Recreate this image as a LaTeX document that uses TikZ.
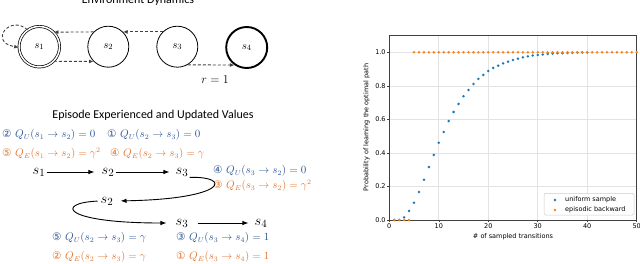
\documentclass[tikz,border=0pt]{standalone}
\usepackage{fontspec}
\usepackage{amsmath}
\usetikzlibrary{arrows.meta,positioning}
\newfontfamily\calfont{Carlito}
\newfontfamily\plotfont{DejaVu Sans}
\definecolor{ublue}{HTML}{2F5597}
\definecolor{eorange}{HTML}{E0752D}
\definecolor{mplblue}{HTML}{1F77B4}
\definecolor{mplorange}{HTML}{FF7F0E}
\definecolor{dashgray}{HTML}{404040}
\newcommand{\cnum}[1]{{\plotfont\fontsize{10.5}{10.5}\selectfont #1}}

\begin{document}
\begin{tikzpicture}[x=1pt, y=1pt, >=Stealth,
  state/.style={circle, draw, line width=0.8pt, minimum size=41pt, inner sep=0pt, font=\fontsize{11}{11}\selectfont},
  trans/.style={dashgray, dash pattern=on 3pt off 2pt, line width=0.9pt, -{Latex[length=4.5pt,width=4pt]}},
  ep/.style={font=\fontsize{15}{15}\selectfont, inner sep=1pt},
  epar/.style={line width=0.9pt, -{Latex[length=6pt,width=4.5pt]}},
  qu/.style={anchor=west, inner sep=0pt, text=ublue, font=\fontsize{10.5}{10.5}\selectfont},
  qe/.style={qu, text=eorange},
  ttl/.style={font=\calfont\fontsize{12}{12}\selectfont}]
\useasboundingbox (0,0) rectangle (640,-263);

% environment dynamics
\node[ttl, anchor=base] (envttl) at (138,-3) {Environment Dynamics};
\node[state, double, double distance=1.5pt, line width=0.7pt, minimum size=40.5pt] (s1) at (39.3,-46.7) {$s_1$};
\node[state] (s2) at (108.3,-46.7) {$s_2$};
\node[state] (s3) at (177.3,-46.7) {$s_3$};
\node[state, line width=1.9pt] (s4) at (246.7,-47.5) {$s_4$};
\draw[trans] (s1.-45) -- (s2.-135);
\draw[trans] (s2.135) -- (s1.45);
\draw[trans] (s3.135) -- (s2.45);
\draw[trans] (s3.-60) -- (s4.-125);
\draw[trans] (s1.125) .. controls (10,-14) and (-12,-42) .. (s1.182);
\node[font=\fontsize{12}{12}\selectfont] (rew) at (215,-80) {$r=1$};

% episode and values
\node[ttl] (epttl) at (153,-115) {Episode Experienced and Updated Values};
\node[qu] (q1) at (2,-135) {\cnum{②} $Q_U(s_1\rightarrow s_2)=0$};
\node[qu] (q2) at (107,-135) {\cnum{①} $Q_U(s_2\rightarrow s_3)=0$};
\node[qe] (q3) at (2,-154) {\cnum{⑤} $Q_E(s_1\rightarrow s_2)=\gamma^2$};
\node[qe] (q4) at (110,-154) {\cnum{④} $Q_E(s_2\rightarrow s_3)=\gamma$};
\node[qu] (q5) at (213,-171) {\cnum{④} $Q_U(s_3\rightarrow s_2)=0$};
\node[qe] (q6) at (213,-186) {\cnum{③} $Q_E(s_3\rightarrow s_2)=\gamma^2$};
\node[qu] (q7) at (52,-238) {\cnum{⑤} $Q_U(s_2\rightarrow s_3)=\gamma$};
\node[qu] (q8) at (176,-238) {\cnum{③} $Q_U(s_3\rightarrow s_4)=1$};
\node[qe] (q9) at (52,-257) {\cnum{②} $Q_E(s_2\rightarrow s_3)=\gamma$};
\node[qe] (q10) at (176,-257) {\cnum{①} $Q_E(s_3\rightarrow s_4)=1$};

\node[ep] (e1) at (39,-172) {$s_1$};
\node[ep] (e2) at (108,-172) {$s_2$};
\node[ep] (e3) at (182,-172) {$s_3$};
\node[ep] (e4) at (107,-201) {$s_2$};
\node[ep] (e5) at (182,-223) {$s_3$};
\node[ep] (e6) at (261,-223) {$s_4$};
\draw[epar, shorten >=6pt] (e1) -- (e2);
\draw[epar, shorten >=5pt] (e2) -- (e3);
\draw[epar, shorten >=6pt] (e3.south east) .. controls (232,-176) and (228,-199) .. (e4.east);
\draw[epar, shorten <=2pt, shorten >=8pt] (e4.west) .. controls (55,-203) and (62,-223) .. (e5.west);
\draw[epar, shorten <=8pt, shorten >=5pt] (e5) -- (e6);

% plot
\begin{scope}[shift={(389.3,-220)}, x=4.948pt, y=167.7pt, font=\plotfont\fontsize{6.5}{6.5}\selectfont]
  \foreach \gx [count=\i] in {0,10,20,30,40,50}{
    \draw[gray!22, line width=0.6pt] (\gx,0) -- (\gx,1.103);
    \draw[black!75, line width=0.5pt] (\gx,0) -- ++(0,-2pt);
    \node[anchor=north, inner sep=0pt] (xt\i) at ([yshift=-3.5pt]\gx,0) {\gx};
  }
  \foreach \gy/\lbl [count=\i] in {0/0.0, 0.2/0.2, 0.4/0.4, 0.6/0.6, 0.8/0.8, 1/1.0}{
    \draw[gray!22, line width=0.6pt] (0,\gy) -- (50,\gy);
    \draw[black!75, line width=0.5pt] (0,\gy) -- ++(-2pt,0);
    \node[anchor=east, inner sep=0pt] (yt\i) at ([xshift=-3.5pt]0,\gy) {\lbl};
  }
  \draw[black!75, line width=0.5pt] (0,0) rectangle (50,1.103);
  \foreach \dx/\dy in {1/0, 2/0, 3/0.016, 4/0.054, 5/0.103, 6/0.167, 7/0.24, 8/0.316,
      9/0.388, 10/0.461, 11/0.525, 12/0.59, 13/0.644, 14/0.692, 15/0.738, 16/0.775,
      17/0.811, 18/0.841, 19/0.865, 20/0.889, 21/0.907, 22/0.92, 23/0.934, 24/0.944,
      25/0.954, 26/0.962, 27/0.97, 28/0.976, 29/0.981, 30/0.984, 31/0.987, 32/0.99,
      33/0.992, 34/0.994, 35/0.995, 36/0.996, 37/0.997, 38/0.998, 39/0.999, 40/0.999}
    \fill[mplblue] (\dx,\dy) circle (1.4pt);
  \foreach \dx in {1,...,4}
    \fill[mplorange] (\dx,0) circle (1.4pt);
  \foreach \dx in {5,...,50}
    \fill[mplorange] (\dx,1) circle (1.4pt);
\end{scope}
\node[rotate=90, font=\plotfont\fontsize{6.5}{6.5}\selectfont] (ylbl) at (366.7,-127.5) {Probability of learning the optimal path};
\node[font=\plotfont\fontsize{6.5}{6.5}\selectfont] (xlbl) at (513,-236.7) {\# of sampled transitions};

% legend
\draw[gray!40, fill=white, rounded corners=1.5pt, line width=0.5pt] (544,-193.3) rectangle (634,-215);
\fill[mplblue] (555,-200) circle (1.4pt);
\fill[mplorange] (555,-210) circle (1.4pt);
\node[anchor=west, inner sep=0pt, font=\plotfont\fontsize{6.5}{6.5}\selectfont] (leg1) at (565,-200) {uniform sample};
\node[anchor=west, inner sep=0pt, font=\plotfont\fontsize{6.5}{6.5}\selectfont] (leg2) at (565,-210) {episodic backward};
\end{tikzpicture}
\end{document}
